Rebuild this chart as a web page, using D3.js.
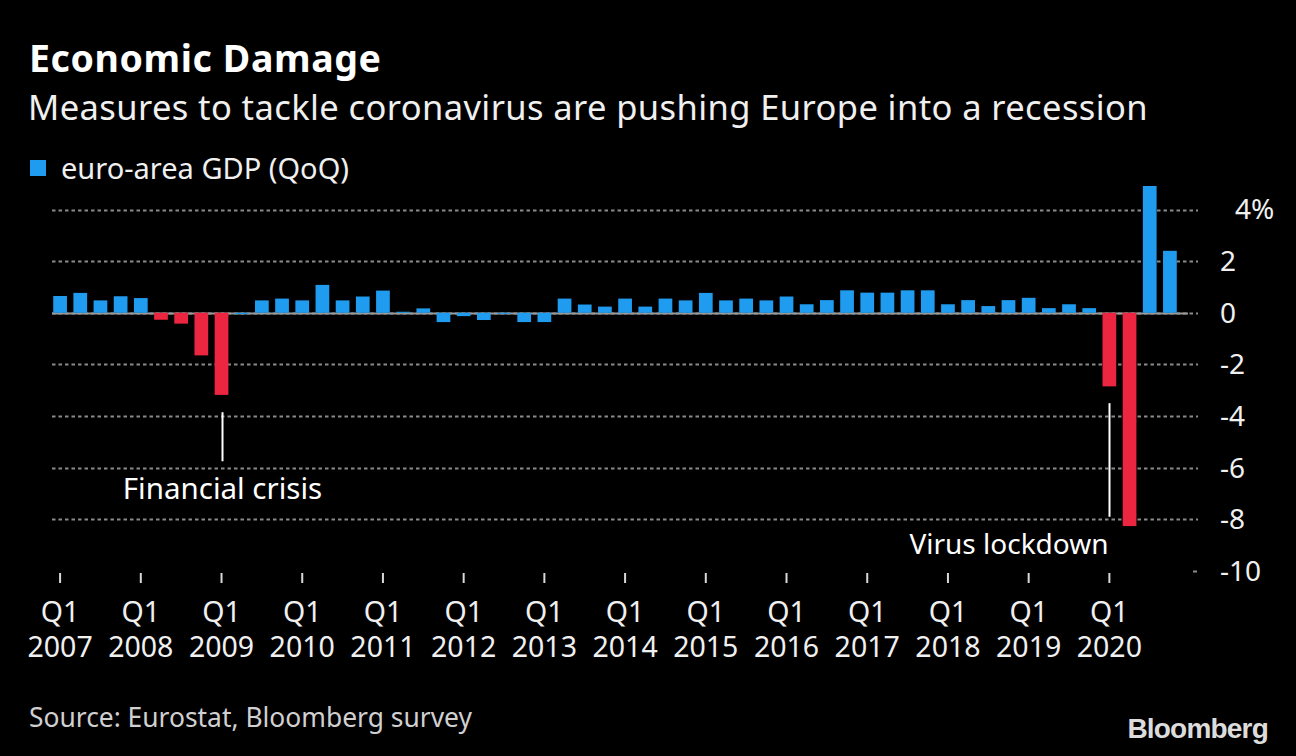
<!DOCTYPE html>
<html>
<head>
<meta charset="utf-8">
<script src="https://cdn.jsdelivr.net/npm/d3@7"></script>
<style>
  html, body { margin: 0; padding: 0; background: #000; }
  svg { display: block; }
  text { font-family: "Noto Sans", "Open Sans", sans-serif; }
</style>
</head>
<body>
<svg id="chart" width="1296" height="756"></svg>
<script>
// ---------- data ----------
const years = [2007, 2008, 2009, 2010, 2011, 2012, 2013, 2014, 2015, 2016, 2017, 2018, 2019, 2020];
const quarters = years.flatMap(y => ["Q1", "Q2", "Q3", "Q4"].map(q => y + " " + q));
const gdpQoQ = [
  0.65, 0.77, 0.48, 0.64,    // 2007
  0.57, -0.27, -0.42, -1.65, // 2008
  -3.18, -0.05, 0.48, 0.55,  // 2009
  0.48, 1.08, 0.48, 0.63,    // 2010
  0.86, 0.04, 0.17, -0.36,   // 2011
  -0.13, -0.28, -0.04, -0.36,// 2012
  -0.36, 0.55, 0.32, 0.24,   // 2013
  0.55, 0.24, 0.55, 0.48,    // 2014
  0.77, 0.48, 0.55, 0.48,    // 2015
  0.63, 0.33, 0.49, 0.87,    // 2016
  0.78, 0.78, 0.87, 0.87,    // 2017
  0.33, 0.49, 0.26, 0.49,    // 2018
  0.58, 0.18, 0.33, 0.18,    // 2019
  -2.85, -8.26, 4.91, 2.40   // 2020
];
const recessionQuarters = ["2008 Q2", "2008 Q3", "2008 Q4", "2009 Q1", "2020 Q1", "2020 Q2"];
const yTicks = [4, 2, 0, -2, -4, -6, -8, -10];
const xTickQuarters = years.map(y => y + " Q1");
const annotations = [
  { quarter: "2009 Q1", label: "Financial crisis", from: -3.85, to: -5.75, anchor: "middle", labelAt: -7.2, size: 29.5 },
  { quarter: "2020 Q1", label: "Virus lockdown", from: -3.5, to: -7.9, anchor: "end", labelAt: -9.35, size: 28 }
];
const title = "Economic Damage";
const subtitle = "Measures to tackle coronavirus are pushing Europe into a recession";
const legendLabel = "euro-area GDP (QoQ)";
const source = "Source: Eurostat, Bloomberg survey";

// ---------- layout ----------
const BLUE = "#1f9cf0", RED = "#ec2640", GRID = "#8a8a8a", TXT = "#f0f0f0";
const svg = d3.select("#chart");
svg.append("rect").attr("width", 1296).attr("height", 756).attr("fill", "#000");

const x = d3.scaleBand().domain(quarters).range([50, 1180]).paddingInner(0.32).paddingOuter(0.16);
const y = d3.scaleLinear().domain([-10, 4]).range([571, 209.5]);

// titles
svg.append("text").attr("x", 29).attr("y", 71.5).attr("fill", "#fff")
  .attr("font-size", 37.5).attr("font-weight", 700).attr("letter-spacing", 0.6).text(title);
svg.append("text").attr("x", 28).attr("y", 119.5).attr("fill", TXT)
  .attr("font-size", 34.5).attr("letter-spacing", 0.4).text(subtitle);

// legend
svg.append("rect").attr("x", 30).attr("y", 160).attr("width", 16).attr("height", 16).attr("fill", BLUE);
svg.append("text").attr("x", 61).attr("y", 179).attr("fill", TXT).attr("font-size", 29).text(legendLabel);

// grid
const grid = svg.append("g");
grid.selectAll("line.g").data(yTicks.filter(t => t !== -10)).join("line")
  .attr("x1", 52).attr("x2", 1198)
  .attr("y1", d => Math.round(y(d)) + 0.5).attr("y2", d => Math.round(y(d)) + 0.5)
  .attr("stroke", GRID).attr("stroke-width", 2).attr("stroke-dasharray", "3.5,3");
grid.append("line").attr("x1", 1193).attr("x2", 1197)
  .attr("y1", Math.round(y(-10)) + 0.5).attr("y2", Math.round(y(-10)) + 0.5)
  .attr("stroke", GRID).attr("stroke-width", 2);
grid.append("line").attr("x1", 52).attr("x2", 1188)
  .attr("y1", Math.round(y(0)) + 0.5).attr("y2", Math.round(y(0)) + 0.5)
  .attr("stroke", "#9a9a9a").attr("stroke-width", 2);

// bars
svg.append("g").selectAll("rect").data(quarters).join("rect")
  .attr("x", d => x(d))
  .attr("width", x.bandwidth())
  .attr("y", (d, i) => y(Math.max(0, gdpQoQ[i])))
  .attr("height", (d, i) => Math.max(1, Math.abs(y(gdpQoQ[i]) - y(0))))
  .attr("fill", d => recessionQuarters.includes(d) ? RED : BLUE);

// y axis labels (right)
const yLab = svg.append("g");
yLab.selectAll("text").data(yTicks).join("text")
  .attr("x", d => d === 4 ? 1235 : 1220)
  .attr("y", d => y(d))
  .attr("dy", "0.35em")
  .attr("fill", TXT).attr("font-size", 28)
  .text(d => d === 4 ? d + "%" : d);

// x axis
const xAxis = d3.axisBottom(x).tickValues(xTickQuarters).tickSize(10).tickPadding(0).tickFormat(() => "");
const xg = svg.append("g").attr("transform", "translate(0,573)").call(xAxis);
xg.select(".domain").remove();
xg.selectAll(".tick line").attr("stroke", "#d8d8d8").attr("stroke-width", 2);
const xt = xg.selectAll(".tick");
xt.append("text").attr("y", 49).attr("fill", TXT).attr("font-size", 28.5)
  .attr("text-anchor", "middle").text(d => d.split(" ")[1]);
xt.append("text").attr("y", 84).attr("fill", TXT).attr("font-size", 28.5)
  .attr("text-anchor", "middle").text(d => d.split(" ")[0]);

// annotations
const ann = svg.append("g");
annotations.forEach(a => {
  const cx = Math.round(x(a.quarter) + x.bandwidth() / 2) + 0.5;
  ann.append("line").attr("x1", cx).attr("x2", cx).attr("y1", y(a.from)).attr("y2", y(a.to))
    .attr("stroke", "#fff").attr("stroke-width", 2);
  ann.append("text").attr("x", a.anchor === "end" ? cx - 1 : cx).attr("y", y(a.labelAt))
    .attr("text-anchor", a.anchor).attr("fill", "#fff").attr("font-size", a.size).text(a.label);
});

// footer
svg.append("text").attr("x", 29).attr("y", 727).attr("fill", "#d0d0d0").attr("font-size", 26.4).text(source);
svg.append("text").attr("x", 1268).attr("y", 738).attr("text-anchor", "end")
  .attr("fill", "#dcdcdc").attr("font-size", 28).attr("font-weight", 700)
  .attr("letter-spacing", -0.8)
  .style("font-family", "'Liberation Sans', Arial, sans-serif").text("Bloomberg");
</script>
</body>
</html>
